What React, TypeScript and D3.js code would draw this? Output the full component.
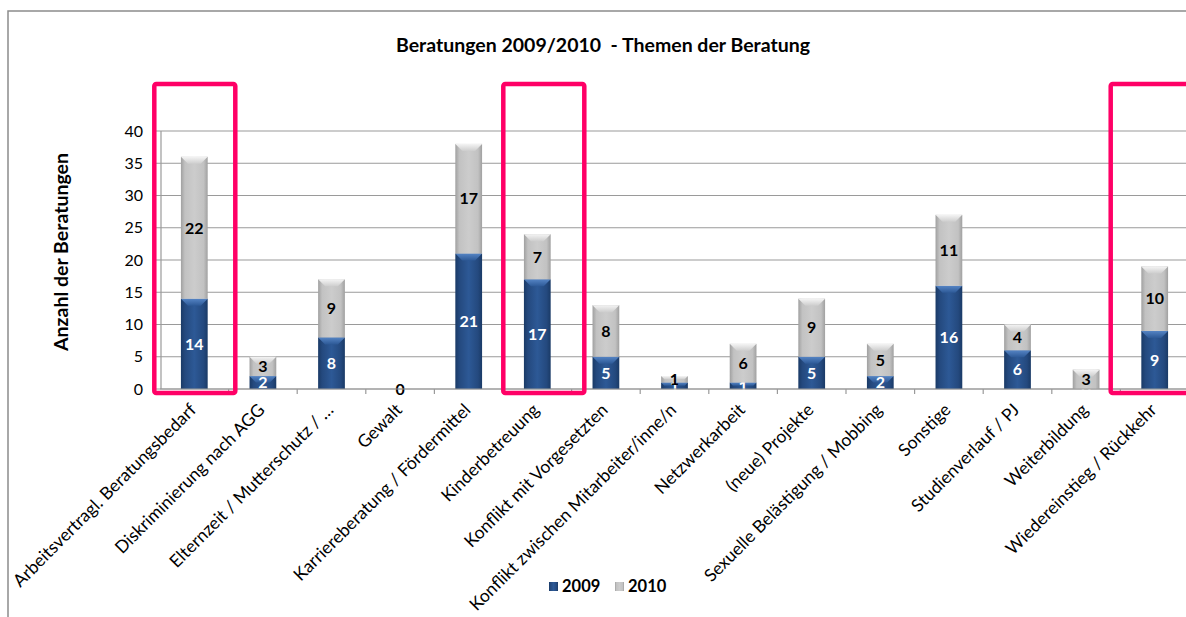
import React from 'react';
import * as d3 from 'd3';

// chart data
const categories = [
  'Arbeitsvertragl. Beratungsbedarf',
  'Diskriminierung nach AGG',
  'Elternzeit / Mutterschutz / …',
  'Gewalt',
  'Karriereberatung / Fördermittel',
  'Kinderbetreuung',
  'Konflikt mit Vorgesetzten',
  'Konflikt zwischen Mitarbeiter/inne/n',
  'Netzwerkarbeit',
  '(neue) Projekte',
  'Sexuelle Belästigung / Mobbing',
  'Sonstige',
  'Studienverlauf / PJ',
  'Weiterbildung',
  'Wiedereinstieg / Rückkehr',
];
const values2009 = [14, 2, 8, 0, 21, 17, 5, 1, 1, 5, 2, 16, 6, 0, 9];
const values2010 = [22, 3, 9, 0, 17, 7, 8, 1, 6, 9, 5, 11, 4, 3, 10];
const seriesNames = ['2009', '2010'];
const yTicks = [0, 5, 10, 15, 20, 25, 30, 35, 40];
const highlighted = ['Arbeitsvertragl. Beratungsbedarf', 'Kinderbetreuung', 'Wiedereinstieg / Rückkehr'];
const highlightNudge = [0, 6, -4];

const FONT = 'Lato, "Open Sans", sans-serif';
const W = 1186;
const H = 617;
const plot = { left: 160, right: 1189, top: 131, bottom: 389 };

export default function App() {
  const x = d3.scaleBand<string>().domain(categories).range([plot.left, plot.right]).paddingInner(0).paddingOuter(0);
  const y = d3.scaleLinear().domain([0, 40]).range([plot.bottom, plot.top]);
  const barW = x.bandwidth() * 0.39;

  const stacked = d3.stack<number>().keys(['0', '1'])(
    categories.map((_, i) => ({ 0: values2009[i], 1: values2010[i] }) as any)
  );
  const series = [values2009, values2010];

  const fills = ['url(#blueGrad)', 'url(#grayGrad)'];
  const labelColors = ['#ffffff', '#000000'];

  return (
    <svg width={W} height={H} style={{ position: 'absolute', left: 0, top: 0, background: '#fff' }}>
      <defs>
        <linearGradient id="blueGrad" x1="0" x2="1" y1="0" y2="0">
          <stop offset="0" stopColor="#1a3a66" />
          <stop offset="0.15" stopColor="#24497e" />
          <stop offset="0.5" stopColor="#2d5996" />
          <stop offset="0.85" stopColor="#24497e" />
          <stop offset="1" stopColor="#1a3a66" />
        </linearGradient>
        <linearGradient id="grayGrad" x1="0" x2="1" y1="0" y2="0">
          <stop offset="0" stopColor="#a0a0a0" />
          <stop offset="0.15" stopColor="#c2c2c2" />
          <stop offset="0.5" stopColor="#cccccc" />
          <stop offset="0.85" stopColor="#c2c2c2" />
          <stop offset="1" stopColor="#a0a0a0" />
        </linearGradient>
        <linearGradient id="blueCap" x1="0" x2="0" y1="0" y2="1">
          <stop offset="0" stopColor="#5584c4" />
          <stop offset="1" stopColor="#2d5996" />
        </linearGradient>
        <linearGradient id="grayCap" x1="0" x2="0" y1="0" y2="1">
          <stop offset="0" stopColor="#f4f4f4" />
          <stop offset="1" stopColor="#cdcdcd" />
        </linearGradient>
      </defs>

      {/* outer frame */}
      <rect x={8} y={11} width={W} height={H} fill="none" stroke="#8c8c8c" strokeWidth={1.5} />

      <text x={603} y={52} textAnchor="middle" fontFamily={FONT} fontWeight="bold" fontSize={19.5}>
        {'Beratungen 2009/2010\u00a0\u00a0- Themen der Beratung'}
      </text>

      {/* gridlines + y ticks */}
      {yTicks.map((t) => (
        <g key={t}>
          <line x1={plot.left - 4} x2={W} y1={y(t)} y2={y(t)} stroke="#9a9a9a" strokeWidth={1.2} />
          <text x={143} y={y(t)} dy="0.35em" textAnchor="end" fontFamily={FONT} fontSize={16}>
            {t}
          </text>
        </g>
      ))}
      <line x1={plot.left + 1} x2={plot.left + 1} y1={plot.top} y2={plot.bottom} stroke="#9a9a9a" strokeWidth={1.2} />
      {categories.map((c) => (
        <line key={c} x1={x(c)! + x.bandwidth()} x2={x(c)! + x.bandwidth()} y1={plot.bottom} y2={plot.bottom + 5} stroke="#9a9a9a" strokeWidth={1.2} />
      ))}

      <text
        transform={`translate(68,252) rotate(-90)`}
        textAnchor="middle"
        fontFamily={FONT}
        fontWeight="bold"
        fontSize={19.5}
      >
        Anzahl der Beratungen
      </text>

      {/* bars */}
      {stacked.map((layer, si) => (
        <g key={si}>
          {layer.map((d, i) => {
            const cx = x(categories[i])! + x.bandwidth() / 2;
            const y0 = y(d[0]);
            const y1 = y(d[1]);
            const h = y0 - y1;
            const cap = Math.min(7, h / 2);
            return (
              <g key={i}>
                {h > 0 && (
                  <>
                    <rect x={cx - barW / 2} y={y1} width={barW} height={h} fill={fills[si]} />
                    <path
                      d={`M${cx - barW / 2},${y1} L${cx + barW / 2},${y1} L${cx + barW / 2 - cap},${y1 + cap} L${cx - barW / 2 + cap},${y1 + cap} Z`}
                      fill={si === 0 ? 'url(#blueCap)' : 'url(#grayCap)'}
                    />
                  </>
                )}
                <text
                  x={cx}
                  y={(y0 + y1) / 2}
                  dy="0.36em"
                  textAnchor="middle"
                  fontFamily={FONT}
                  fontWeight="bold"
                  fontSize={16}
                  fill={labelColors[si]}
                >
                  {series[si][i]}
                </text>
              </g>
            );
          })}
        </g>
      ))}

      <line x1={plot.left} x2={W} y1={plot.bottom} y2={plot.bottom} stroke="#9a9a9a" strokeWidth={1.2} />

      {/* category labels */}
      {categories.map((c) => {
        const cx = x(c)! + x.bandwidth() / 2;
        return (
          <text
            key={c}
            transform={`translate(${cx + 3},${plot.bottom + 22}) rotate(-45)`}
            textAnchor="end"
            fontFamily={FONT}
            fontSize={17.5}
          >
            {c}
          </text>
        );
      })}

      {/* highlight boxes */}
      {highlighted.map((c, i) => {
        const cx = x(c)! + x.bandwidth() / 2 + highlightNudge[i];
        return (
          <rect key={c} x={cx - 40} y={84} width={81} height={309} rx={2} fill="none" stroke="#ff0066" strokeWidth={4.5} />
        );
      })}

      {/* legend */}
      {seriesNames.map((s, i) => (
        <g key={s} transform={`translate(${549 + i * 66},582)`}>
          <rect width={9} height={9} fill={fills[i]} />
          <text x={13} y={10} fontFamily={FONT} fontWeight="bold" fontSize={16.5}>
            {s}
          </text>
        </g>
      ))}
    </svg>
  );
}
